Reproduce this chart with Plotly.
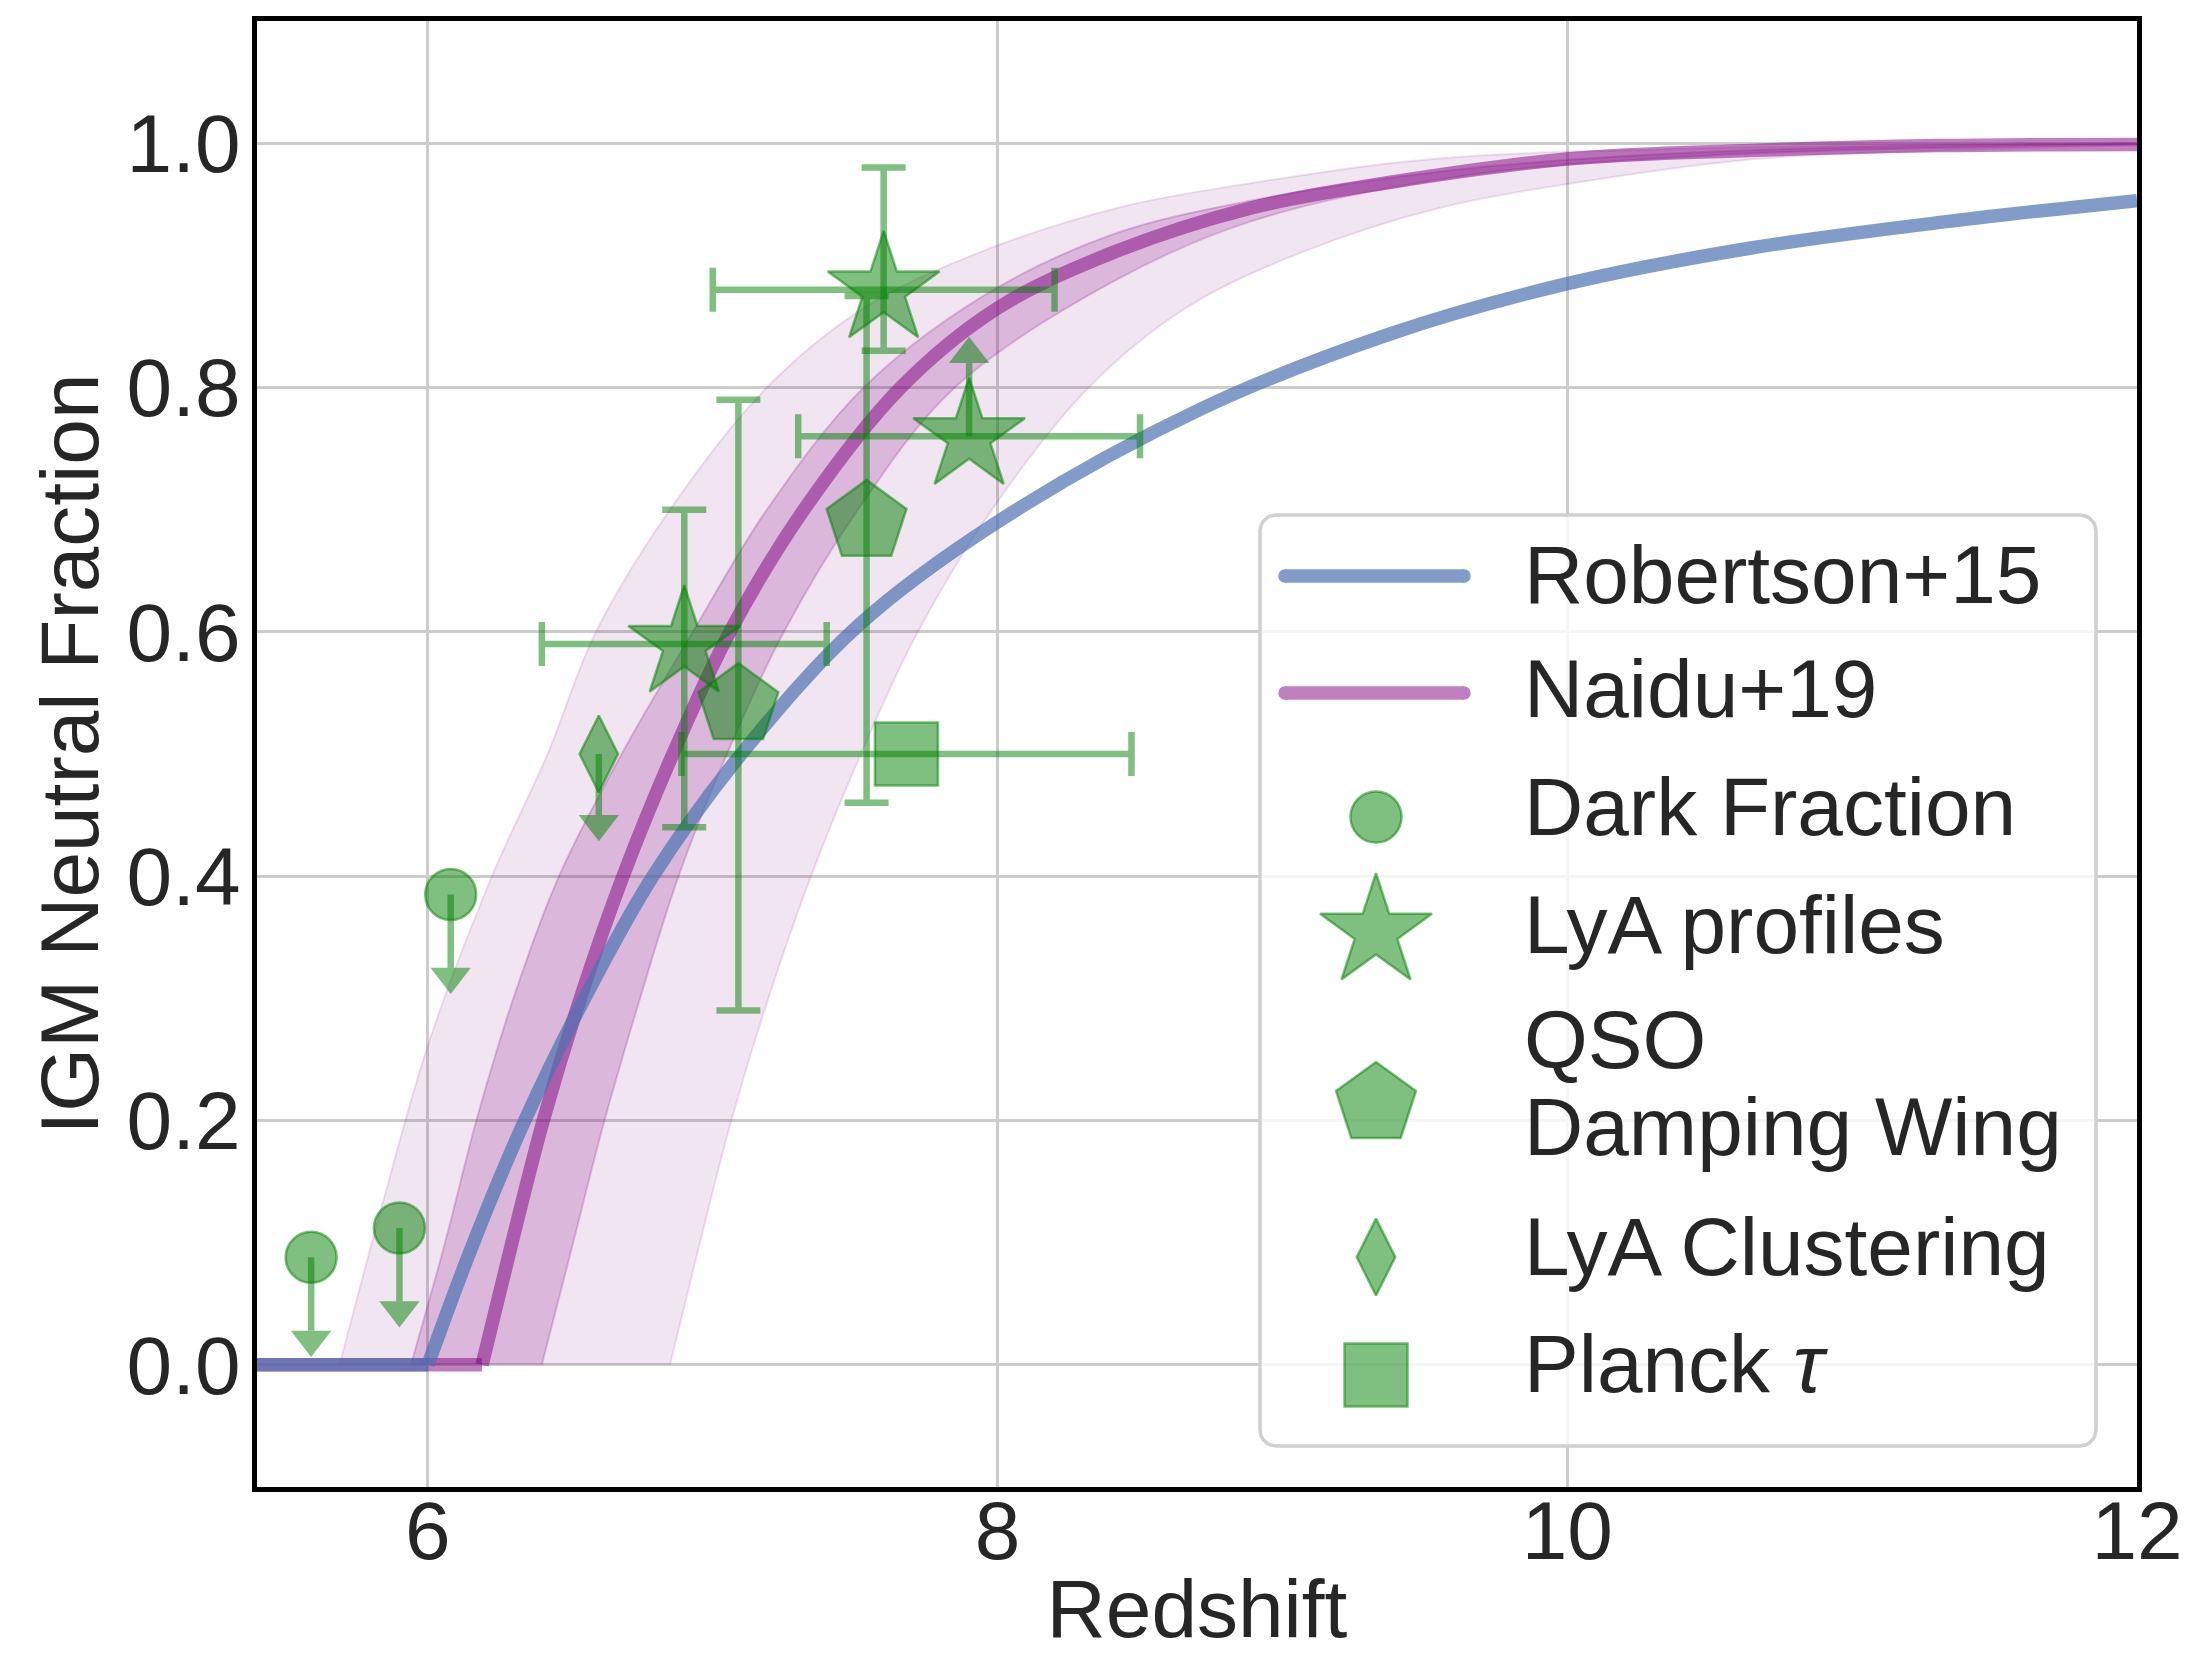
import math
import plotly.graph_objects as go

# ---------------- data ----------------
# Robertson+15 neutral fraction curve
robertson_z = [5.40, 6.00, 6.16, 6.34, 6.55, 6.79, 7.10, 7.51, 8.00, 8.71, 9.38, 10.00, 10.64, 11.34, 12.00]
robertson_x = [0.0, 0.0, 0.10, 0.20, 0.30, 0.40, 0.50, 0.605, 0.69, 0.782, 0.844, 0.885, 0.914, 0.936, 0.953]

# Naidu+19 median curve
naidu_z = [5.40, 6.19, 6.295, 6.405, 6.535, 6.685, 6.86, 7.06, 7.32, 7.66, 8.00, 8.40, 8.89, 9.38, 10.00, 10.64, 11.30, 12.00]
naidu_x = [0.0, 0.0, 0.10, 0.20, 0.30, 0.40, 0.50, 0.60, 0.70, 0.80, 0.865, 0.91, 0.947, 0.968, 0.987, 0.994, 0.998, 0.999]

# Naidu+19 outer band edges
naidu_2s_hi_z = [5.69, 5.85, 6.005, 6.225, 6.42, 6.59, 6.85, 7.19, 7.53, 7.93, 8.42, 8.91, 9.53, 10.50, 12.00]
naidu_2s_hi_x = [0.0, 0.14, 0.265, 0.40, 0.50, 0.60, 0.70, 0.80, 0.865, 0.91, 0.947, 0.968, 0.987, 0.996, 1.0]
naidu_2s_lo_z = [6.85, 6.955, 7.065, 7.195, 7.345, 7.52, 7.72, 7.98, 8.32, 8.66, 9.06, 9.55, 10.04, 10.66, 11.30, 12.00]
naidu_2s_lo_x = [0.0, 0.10, 0.20, 0.30, 0.40, 0.50, 0.60, 0.70, 0.80, 0.865, 0.91, 0.947, 0.968, 0.987, 0.994, 0.998]

# Naidu+19 inner band edges
naidu_1s_hi_z = [5.94, 6.06, 6.17, 6.30, 6.46, 6.68, 6.93, 7.19, 7.53, 7.95, 8.40, 8.89, 9.60, 10.50, 12.00]
naidu_1s_hi_x = [0.0, 0.10, 0.20, 0.30, 0.40, 0.50, 0.60, 0.70, 0.80, 0.875, 0.925, 0.953, 0.978, 0.993, 1.0]
naidu_1s_lo_z = [6.40, 6.51, 6.62, 6.745, 6.88, 7.05, 7.25, 7.51, 7.85, 8.40, 8.89, 9.60, 10.50, 12.00]
naidu_1s_lo_x = [0.0, 0.10, 0.20, 0.30, 0.40, 0.50, 0.60, 0.70, 0.80, 0.886, 0.936, 0.972, 0.990, 0.999]

# Dark fraction (upper limits)
dark_z = [5.59, 5.90, 6.08]
dark_x = [0.088, 0.112, 0.385]
dark_lim = [0.06, 0.06, 0.06]

# Lya profiles
lya_z = [6.90, 7.60, 7.90]
lya_x = [0.59, 0.88, 0.76]
lya_x_plus = [0.11, 0.10, 0.0]
lya_x_minus = [0.15, 0.05, 0.0]
lya_z_err = [0.50, 0.60, 0.60]
lya_is_lowerlim = [False, False, True]
lya_lim = [0.0, 0.0, 0.06]

# QSO damping wing
qso_z = [7.09, 7.54]
qso_x = [0.54, 0.69]
qso_x_plus = [0.25, 0.185]
qso_x_minus = [0.25, 0.23]

# Lya clustering (upper limit)
clus_z = [6.60]
clus_x = [0.50]
clus_lim = [0.05]

# Planck tau
planck_z = [7.68]
planck_x = [0.50]
planck_z_err = [0.79]

x_ticks = [6, 8, 10, 12]
y_ticks = [0.0, 0.2, 0.4, 0.6, 0.8, 1.0]

legend_labels = ["Robertson+15", "Naidu+19", "Dark Fraction", "LyA profiles",
                 "QSO<br>Damping Wing", "LyA Clustering", "Planck <i>τ</i>"]

# ---------------- styles ----------------
W, H = 2188, 1654
ML, MR, MT, MB = 257, 51, 21, 167
XR = [5.4, 12.0]
YR = [-0.1, 1.1]
PPY = (H - MT - MB) / (YR[1] - YR[0])   # pixels per unit y

FONT = "Liberation Sans, Arial, sans-serif"
TXT = "#262626"
FS = 82

GREEN = "rgba(0,128,0,0.5)"
BLUE = "rgba(76,114,176,0.7)"
PURPLE = "rgba(128,0,128,0.5)"
BLUE_SOLID = "rgb(130,156,200)"
PURPLE_SOLID = "rgb(192,128,192)"
LW = 13.5
ERR_T = 6.5
CAP = 22
EDGE_W = 2.5
SIZES = dict(circle=51, star=84, pentagon=84, diamond=55, square=63, head=35)


def mk(symbol, size):
    return dict(symbol=symbol, size=size, color=GREEN, line=dict(color=GREEN, width=EDGE_W))


fig = go.Figure()


def band(lo_z, lo_x, hi_z, hi_x, fill, edge):
    fig.add_trace(go.Scatter(x=lo_z, y=lo_x, mode="lines",
                             line=dict(color=edge, width=2, shape="spline", smoothing=1.0),
                             hoverinfo="skip", showlegend=False))
    fig.add_trace(go.Scatter(x=hi_z, y=hi_x, mode="lines", fill="tonexty", fillcolor=fill,
                             line=dict(color=edge, width=2, shape="spline", smoothing=1.0),
                             hoverinfo="skip", showlegend=False))


band(naidu_2s_lo_z, naidu_2s_lo_x, naidu_2s_hi_z, naidu_2s_hi_x,
     "rgba(128,0,128,0.1)", "rgba(128,0,128,0.12)")
band(naidu_1s_lo_z, naidu_1s_lo_x, naidu_1s_hi_z, naidu_1s_hi_x,
     "rgba(128,0,128,0.2)", "rgba(128,0,128,0.2)")


def curve(z, x, color, name):
    k = max(i for i, v in enumerate(x) if v == 0)
    fig.add_trace(go.Scatter(x=z[:k + 1], y=x[:k + 1], mode="lines", name=name,
                             line=dict(color=color, width=LW), showlegend=False))
    fig.add_trace(go.Scatter(x=z[k:], y=x[k:], mode="lines", name=name,
                             line=dict(color=color, width=LW, shape="spline", smoothing=1.0),
                             showlegend=False))


curve(naidu_z, naidu_x, PURPLE, "Naidu+19")
curve(robertson_z, robertson_x, BLUE, "Robertson+15")


def limits(z, x, lengths, up):
    """matplotlib-style limit arrows: stem + caret head."""
    sx, sy, hx, hy = [], [], [], []
    r = SIZES["head"] / 2.0
    for zz, xx, ll in zip(z, x, lengths):
        end = xx + ll if up else xx - ll
        sx += [zz, zz, None]
        sy += [xx, end, None]
        hx.append(zz)
        hy.append(end + (r / 2) / PPY if up else end - (r / 2) / PPY)
    fig.add_trace(go.Scatter(x=sx, y=sy, mode="lines", line=dict(color=GREEN, width=ERR_T),
                             showlegend=False, hoverinfo="skip"))
    fig.add_trace(go.Scatter(x=hx, y=hy, mode="markers", showlegend=False, hoverinfo="skip",
                             marker=dict(symbol="triangle-up" if up else "triangle-down",
                                         size=SIZES["head"], color=GREEN, line=dict(width=0))))


# Dark fraction
limits(dark_z, dark_x, dark_lim, up=False)
fig.add_trace(go.Scatter(x=dark_z, y=dark_x, mode="markers", name="Dark Fraction",
                         marker=mk("circle", SIZES["circle"]), showlegend=False))

# Lya clustering
limits(clus_z, clus_x, clus_lim, up=False)
fig.add_trace(go.Scatter(x=clus_z, y=clus_x, mode="markers", name="LyA Clustering",
                         marker=mk("diamond-tall", SIZES["diamond"]), showlegend=False))

# QSO damping wing
fig.add_trace(go.Scatter(x=qso_z, y=qso_x, mode="markers", name="QSO Damping Wing",
                         marker=mk("pentagon", SIZES["pentagon"]), showlegend=False,
                         error_y=dict(type="data", symmetric=False, array=qso_x_plus,
                                      arrayminus=qso_x_minus, color=GREEN,
                                      thickness=ERR_T, width=CAP)))

# Planck tau
fig.add_trace(go.Scatter(x=planck_z, y=planck_x, mode="markers", name="Planck tau",
                         marker=mk("square", SIZES["square"]), showlegend=False,
                         error_x=dict(type="data", array=planck_z_err, color=GREEN,
                                      thickness=ERR_T, width=CAP)))

# Lya profiles: measurements
mi = [i for i, f in enumerate(lya_is_lowerlim) if not f]
li = [i for i, f in enumerate(lya_is_lowerlim) if f]
fig.add_trace(go.Scatter(x=[lya_z[i] for i in mi], y=[lya_x[i] for i in mi], mode="markers",
                         name="LyA profiles", marker=mk("star", SIZES["star"]), showlegend=False,
                         error_x=dict(type="data", array=[lya_z_err[i] for i in mi], color=GREEN,
                                      thickness=ERR_T, width=CAP),
                         error_y=dict(type="data", symmetric=False,
                                      array=[lya_x_plus[i] for i in mi],
                                      arrayminus=[lya_x_minus[i] for i in mi], color=GREEN,
                                      thickness=ERR_T, width=CAP)))
# Lya profiles: lower limits
limits([lya_z[i] for i in li], [lya_x[i] for i in li], [lya_lim[i] for i in li], up=True)
fig.add_trace(go.Scatter(x=[lya_z[i] for i in li], y=[lya_x[i] for i in li], mode="markers",
                         name="LyA profiles", marker=mk("star", SIZES["star"]), showlegend=False,
                         error_x=dict(type="data", array=[lya_z_err[i] for i in li], color=GREEN,
                                      thickness=ERR_T, width=CAP)))

# ---------------- custom legend (pixel-space overlay axes) ----------------
X0, X1 = ML, W - MR
Y0, Y1 = MT, H - MB
LEG = (1260, 515, 2096, 1446)
RAD = 16
sym_x = 1376
line_x = (1285, 1464)
text_x = 1522
sym_y = [576, 693, 817, 932, 1104, 1257, 1375]
text_y = [[574], [688], [806], [924], [1039, 1126], [1246], [1363]]

bx, by = [], []
corners = [(LEG[2] - RAD, LEG[1] + RAD, -90, 0), (LEG[2] - RAD, LEG[3] - RAD, 0, 90),
           (LEG[0] + RAD, LEG[3] - RAD, 90, 180), (LEG[0] + RAD, LEG[1] + RAD, 180, 270)]
for cx, cy, a0, a1 in corners:
    for k in range(9):
        a = math.radians(a0 + (a1 - a0) * k / 8)
        bx.append(cx + RAD * math.cos(a))
        by.append(cy + RAD * math.sin(a))
bx.append(bx[0]); by.append(by[0])
fig.add_trace(go.Scatter(x=bx, y=by, xaxis="x2", yaxis="y2", mode="lines", fill="toself",
                         fillcolor="rgba(255,255,255,0.8)", line=dict(color="#d0d0d0", width=3.5),
                         showlegend=False, hoverinfo="skip"))

for yy, col in zip(sym_y[:2], [BLUE_SOLID, PURPLE_SOLID]):
    fig.add_trace(go.Scatter(x=list(line_x), y=[yy, yy], xaxis="x2", yaxis="y2",
                             mode="lines+markers", line=dict(color=col, width=LW),
                             marker=dict(size=LW, color=col, line=dict(width=0)),
                             showlegend=False, hoverinfo="skip"))

leg_syms = [("circle", SIZES["circle"]), ("star", SIZES["star"]), ("pentagon", SIZES["pentagon"]),
            ("diamond-tall", SIZES["diamond"]), ("square", SIZES["square"])]
for (s, sz), yy in zip(leg_syms, sym_y[2:]):
    fig.add_trace(go.Scatter(x=[sym_x], y=[yy], xaxis="x2", yaxis="y2", mode="markers",
                             marker=mk(s, sz), showlegend=False, hoverinfo="skip"))

annots = []
for lab, ys in zip(legend_labels, text_y):
    for part, yy in zip(lab.split("<br>"), ys):
        annots.append(dict(x=text_x, y=yy, xref="x2", yref="y2", text=part, showarrow=False,
                           xanchor="left", yanchor="middle",
                           font=dict(family=FONT, size=FS, color=TXT)))

fig.update_layout(
    width=W, height=H,
    margin=dict(l=ML, r=MR, t=MT, b=MB, pad=0, autoexpand=False),
    paper_bgcolor="white", plot_bgcolor="white",
    font=dict(family=FONT, size=FS, color=TXT),
    showlegend=False,
    annotations=annots,
    xaxis=dict(range=XR, tickvals=x_ticks, ticktext=[str(t) for t in x_ticks],
               automargin=False,
               showgrid=True, gridcolor="#cccccc", gridwidth=3, zeroline=False,
               showline=True, linecolor="black", linewidth=5, mirror=True, ticks="",
               ticklabelstandoff=-31,
               tickfont=dict(family=FONT, size=FS, color=TXT),
               title=dict(text="Redshift", font=dict(family=FONT, size=FS, color=TXT), standoff=18)),
    yaxis=dict(range=YR, tickvals=y_ticks, ticktext=["%.1f" % t for t in y_ticks],
               automargin=False,
               showgrid=True, gridcolor="#cccccc", gridwidth=3, zeroline=False,
               showline=True, linecolor="black", linewidth=5, mirror=True, ticks="",
               ticklabelstandoff=-5,
               tickfont=dict(family=FONT, size=FS, color=TXT),
               title=dict(text="IGM Neutral Fraction", font=dict(family=FONT, size=FS, color=TXT),
                          standoff=2)),
    xaxis2=dict(overlaying="x", range=[X0, X1], visible=False, fixedrange=True, automargin=False),
    yaxis2=dict(overlaying="y", range=[Y1, Y0], visible=False, fixedrange=True, automargin=False),
)

fig.write_html("out.html")
